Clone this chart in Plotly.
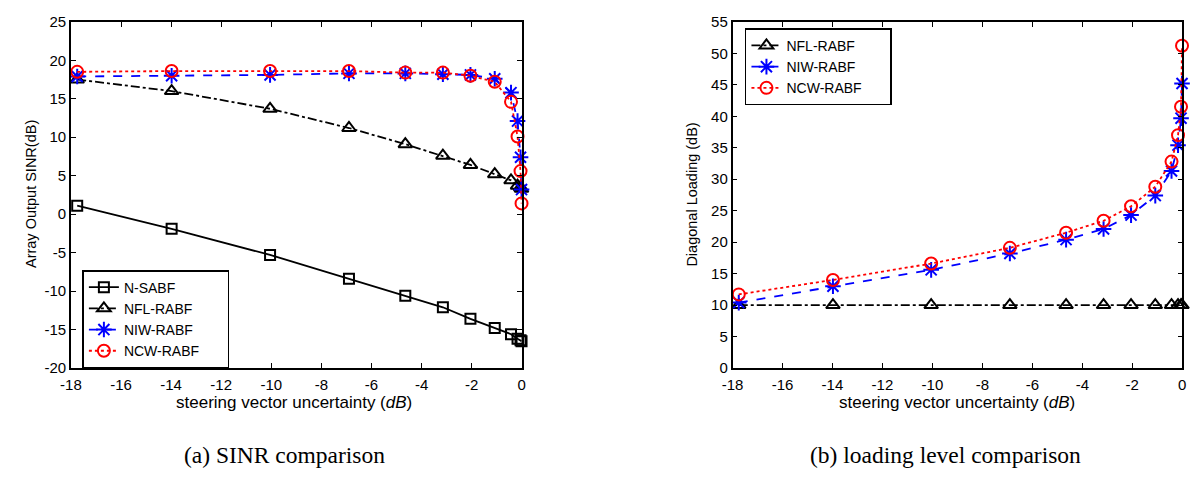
import plotly.graph_objects as go

# ---- data ----
x_unc = [-17.75, -13.98, -10.05, -6.9, -4.65, -3.15, -2.05, -1.08, -0.43, -0.17, -0.05, -0.01]

sinr_nsabf = [1.1, -1.9, -5.3, -8.4, -10.6, -12.1, -13.6, -14.8, -15.6, -16.2, -16.4, -16.5]
sinr_nfl = [17.5, 16.0, 13.7, 11.2, 9.1, 7.6, 6.4, 5.2, 4.4, 3.7, 3.5, 3.3]
sinr_niw = [17.9, 18.0, 18.1, 18.3, 18.3, 18.2, 18.1, 17.6, 15.8, 12.1, 7.4, 3.2]
sinr_ncw = [18.5, 18.6, 18.6, 18.6, 18.4, 18.4, 18.0, 17.2, 14.6, 10.1, 5.6, 1.4]

load_nfl = [10.0] * 12
load_niw = [10.4, 13.0, 15.6, 18.2, 20.4, 22.1, 24.3, 27.4, 31.3, 35.4, 39.7, 45.2]
load_ncw = [11.7, 14.0, 16.6, 19.1, 21.5, 23.4, 25.7, 28.8, 32.8, 37.0, 41.5, 51.2]

x_ticks = list(range(-18, 1, 2))
y1_ticks = list(range(-20, 26, 5))
y2_ticks = list(range(0, 56, 5))
x_ticktext = [str(v) for v in x_ticks]
y1_ticktext = [str(v) for v in y1_ticks]
y2_ticktext = [str(v) for v in y2_ticks]

caption_a = "(a) SINR comparison"
caption_b = "(b) loading level comparison"
xlabel = "steering vector uncertainty (<i>dB</i>)"
ylabel_a = "Array Output SINR(dB)"
ylabel_b = "Diagonal Loading (dB)"

# ---- styles ----
W, H = 1192, 478
SANS = "Liberation Sans, Arial"
PAD = "\u00a0" * 6  # widens the legend box like the reference
styles = {
    "N-SABF": dict(color="black", dash="solid", symbol="square-open", size=10),
    "NFL-RABF": dict(color="black", dash="dashdot", symbol="triangle-up-open", size=12),
    "NIW-RABF": dict(color="blue", dash="dash", symbol="asterisk-open", size=13),
    "NCW-RABF": dict(color="red", dash="dot", symbol="circle-open", size=12),
}

fig = go.Figure()

def add(name, y, xa, ya, legend):
    s = styles[name]
    fig.add_trace(go.Scatter(
        x=x_unc, y=y, name=name + PAD, mode="lines+markers",
        xaxis=xa, yaxis=ya, legend=legend, cliponaxis=False,
        line=dict(color=s["color"], dash=s["dash"], width=1.8),
        marker=dict(symbol=s["symbol"], size=s["size"], color=s["color"],
                    line=dict(color=s["color"], width=2)),
    ))

add("N-SABF", sinr_nsabf, "x", "y", "legend")
add("NFL-RABF", sinr_nfl, "x", "y", "legend")
add("NIW-RABF", sinr_niw, "x", "y", "legend")
add("NCW-RABF", sinr_ncw, "x", "y", "legend")

add("NFL-RABF", load_nfl, "x2", "y2", "legend2")
add("NIW-RABF", load_niw, "x2", "y2", "legend2")
add("NCW-RABF", load_ncw, "x2", "y2", "legend2")

tickfont = dict(family=SANS, size=15, color="black")
ax_common = dict(showline=True, linecolor="black", linewidth=1.5, mirror="ticks",
                 ticks="inside", ticklen=5, tickcolor="black", tickwidth=1,
                 showgrid=False, zeroline=False, tickfont=tickfont)

def px_x(p):
    return p / W

def px_y(p):
    return 1 - p / H

ytop, ybot = px_y(13.3), px_y(372.3)

legend_common = dict(xanchor="left", yanchor="middle",
                     bordercolor="black", borderwidth=1.5, bgcolor="white",
                     font=dict(family=SANS, size=14, color="black"),
                     itemwidth=30, tracegroupgap=0)

fig.update_layout(
    width=W, height=H,
    margin=dict(l=0, r=0, t=0, b=0),
    paper_bgcolor="white", plot_bgcolor="white",
    font=dict(family=SANS, color="black"),
    xaxis=dict(domain=[px_x(60.7), px_x(517.3)], range=[-18, 0], tickvals=x_ticks,
               ticktext=x_ticktext, ticklabelstandoff=2, anchor="y", **ax_common),
    yaxis=dict(domain=[ybot, ytop], range=[-20, 25], tickvals=y1_ticks,
               ticktext=y1_ticktext, ticklabelstandoff=0, anchor="x", **ax_common),
    xaxis2=dict(domain=[px_x(730.7), px_x(1186.2)], range=[-18, 0], tickvals=x_ticks,
                ticktext=x_ticktext, ticklabelstandoff=2, anchor="y2", **ax_common),
    yaxis2=dict(domain=[ybot, ytop], range=[0, 55], tickvals=y2_ticks,
                ticktext=y2_ticktext, ticklabelstandoff=0, anchor="x2", **ax_common),
    legend=dict(x=px_x(72.3), y=px_y(321.5), **legend_common),
    legend2=dict(x=px_x(743.3), y=px_y(60), **legend_common),
    showlegend=True,
)

xl_font = dict(family=SANS, size=17, color="black")
yl_font = dict(family=SANS, size=14.5, color="black")
cap_font = dict(family="Liberation Serif, Times New Roman", size=23.5, color="black")
annots = [
    dict(text=xlabel, x=px_x(287), y=px_y(408), font=xl_font, xanchor="center"),
    dict(text=xlabel, x=px_x(958), y=px_y(408), font=xl_font, xanchor="center"),
    dict(text=ylabel_a, x=px_x(10), y=px_y(192), font=yl_font, textangle=-90, xanchor="left"),
    dict(text=ylabel_b, x=px_x(680), y=px_y(192), font=yl_font, textangle=-90, xanchor="left"),
    dict(text=caption_a, x=px_x(276.5), y=px_y(462), font=cap_font, xanchor="center"),
    dict(text=caption_b, x=px_x(946), y=px_y(462), font=cap_font, xanchor="center"),
]
for a in annots:
    fig.add_annotation(xref="paper", yref="paper", showarrow=False,
                       yanchor="middle", **a)

post_js = ("document.body.style.margin='0';"
           "document.body.style.overflow='hidden';"
           "document.documentElement.style.overflow='hidden';")
fig.write_html("out.html", post_script=post_js, config={"displayModeBar": False})
